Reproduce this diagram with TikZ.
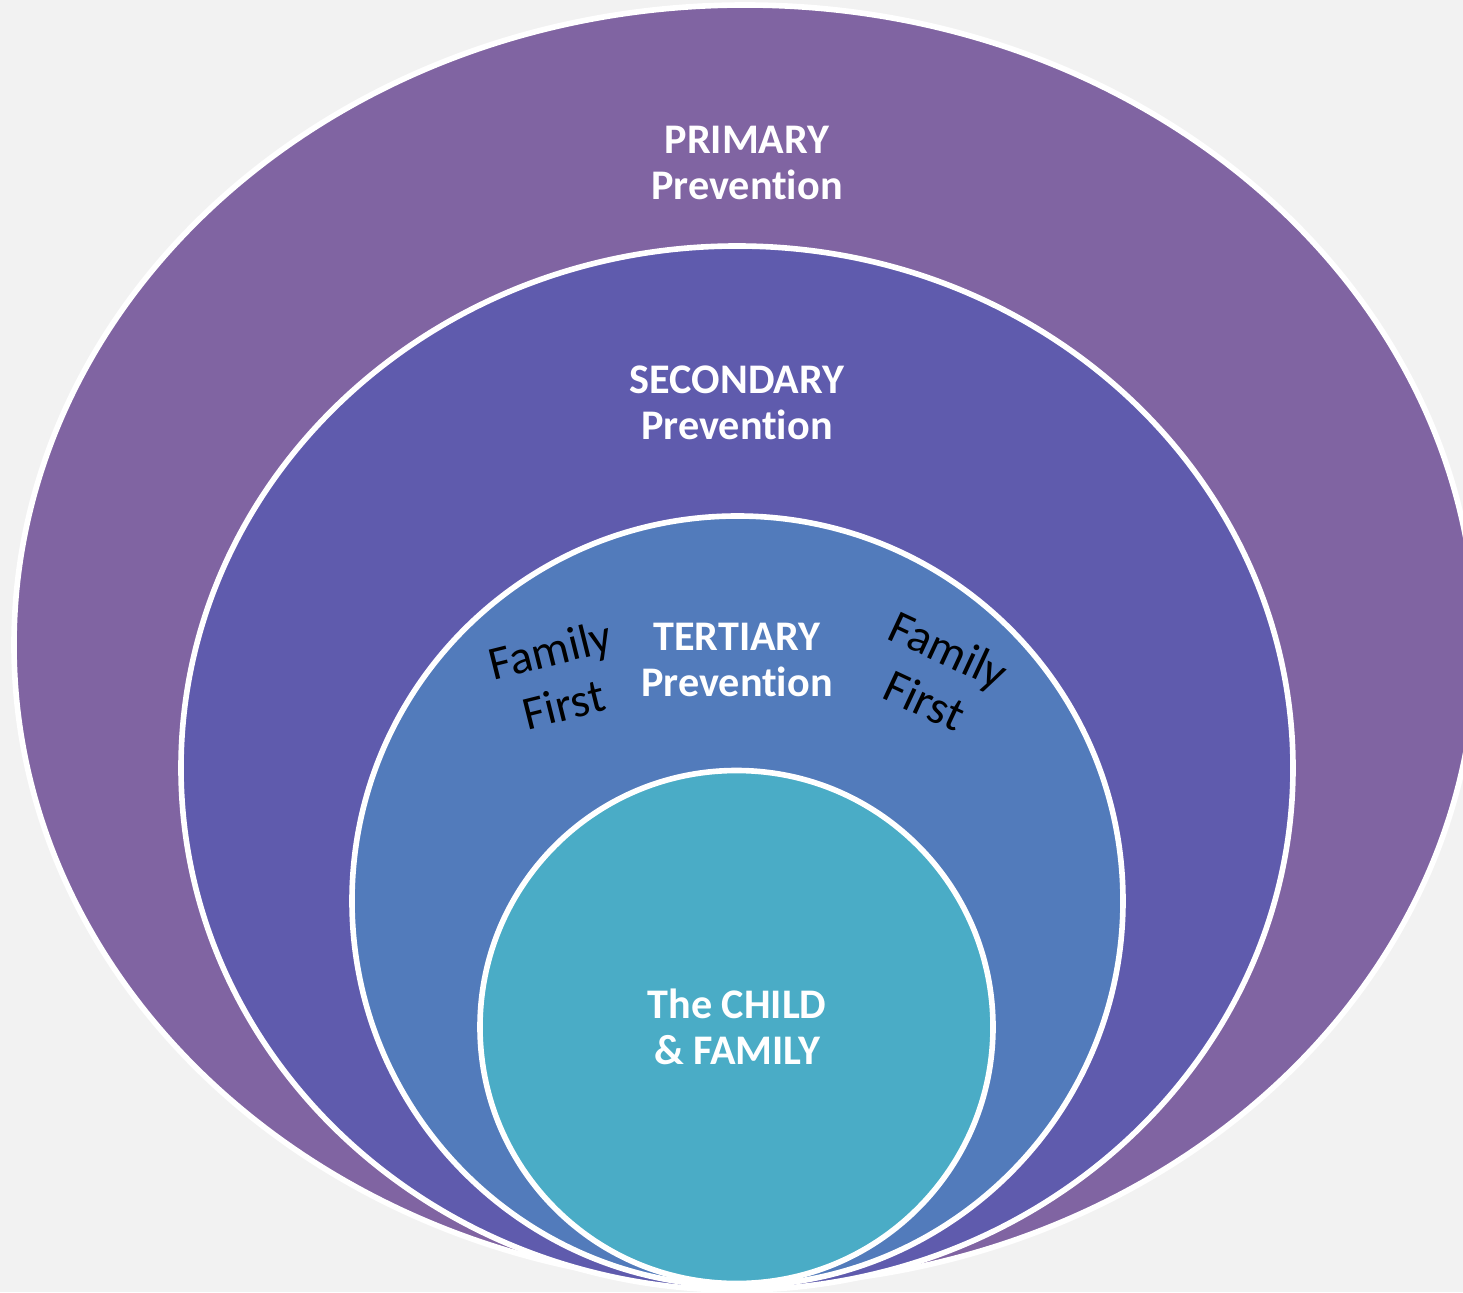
\documentclass[tikz,border=0pt]{standalone}
\usepackage{fontspec}
\setmainfont{Carlito}[Ligatures={NoCommon}]
\usetikzlibrary{shapes.geometric}
\definecolor{bgc}{HTML}{F2F2F2}
\definecolor{primc}{HTML}{8064A2}
\definecolor{secc}{HTML}{5F5BAD}
\definecolor{terc}{HTML}{527BBB}
\definecolor{childc}{HTML}{4AACC6}
\tikzset{
  ring/.style={ellipse, inner sep=0pt, draw=white, line width=1.6pt},
  lbl/.style={text=white, font=\fontsize{12}{13.2}\selectfont\bfseries, align=center, inner sep=0pt},
  ff/.style={text=black, font=\fontsize{13.5}{16}\selectfont, align=center, inner sep=0pt}
}
\begin{document}
\begin{tikzpicture}
\fill[bgc] (0,0) rectangle (14.63,12.92);
\useasboundingbox (0,0) rectangle (14.63,12.92);
\clip (0,0) rectangle (14.63,12.92);
\node[ring, fill=primc, minimum width=14.62cm, minimum height=12.80cm] (primary) at (7.45,6.47) {};
\node[ring, fill=secc, minimum width=11.12cm, minimum height=10.44cm] (secondary) at (7.37,5.24) {};
\node[ring, fill=terc, minimum width=7.71cm, minimum height=7.70cm] (tertiary) at (7.375,3.91) {};
\node[ring, fill=childc, minimum width=5.13cm, minimum height=5.13cm] (child) at (7.365,2.65) {};
\node[lbl] (tprim) at (7.47,11.29) {PRIMARY\\Prevention};
\node[lbl] (tsec) at (7.37,8.89) {SECONDARY\\Prevention};
\node[lbl] (tter) at (7.37,6.32) {TERTIARY\\Prevention};
\node[lbl] (tchild) at (7.37,2.65) {The CHILD\\\& FAMILY};
\node[ff, rotate=14] (ffleft) at (5.57,6.15) {Family\\First};
\node[ff, rotate=-25] (ffright) at (9.37,6.17) {Family\\First};
\end{tikzpicture}
\end{document}
